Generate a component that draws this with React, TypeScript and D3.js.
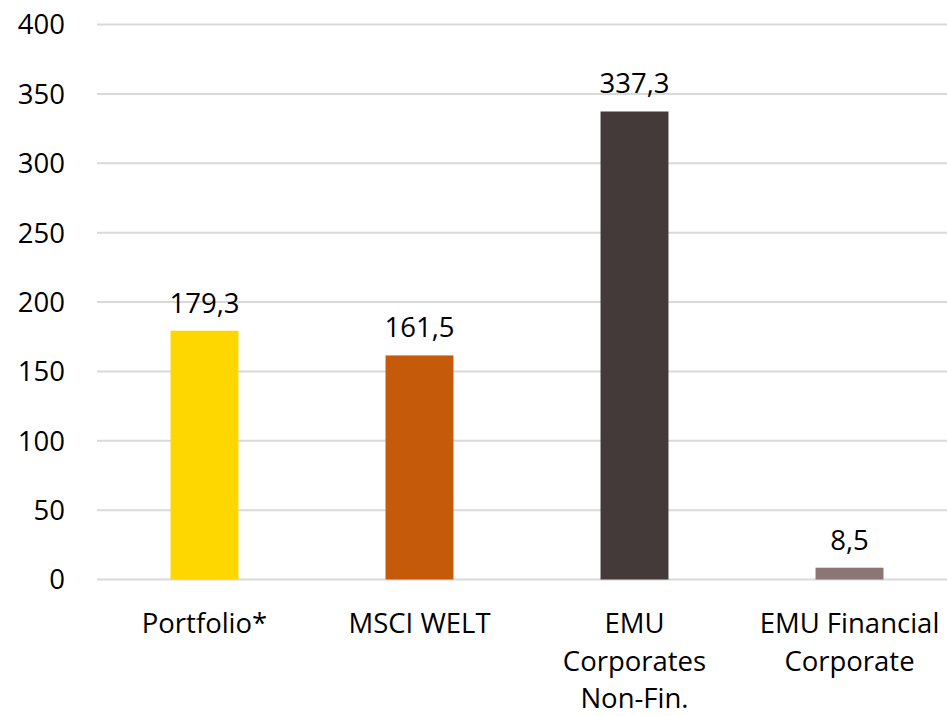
import React, { useEffect, useRef } from "react";
import * as d3 from "d3";

const categories = ["Portfolio*", "MSCI WELT", "EMU Corporates Non-Fin.", "EMU Financial Corporate"];
const categoryLines = [["Portfolio*"], ["MSCI WELT"], ["EMU", "Corporates", "Non-Fin."], ["EMU Financial", "Corporate"]];
const values = [179.3, 161.5, 337.3, 8.5];
const barColors = ["#FFD700", "#C55A0B", "#433A39", "#8B7575"];
const yTicks = [0, 50, 100, 150, 200, 250, 300, 350, 400];

export default function App() {
  const ref = useRef<SVGSVGElement>(null);

  useEffect(() => {
    const width = 947;
    const svg = d3.select(ref.current);
    svg.selectAll("*").remove();
    const font = "'Open Sans', sans-serif";
    const fs = 27.5;

    const x = d3
      .scaleBand()
      .domain(categories)
      .range([97, 957])
      .paddingInner(0.684)
      .paddingOuter(0.342);

    const y = d3.scaleLinear().domain([0, 400]).range([579.5, 24.5]);

    svg
      .append("g")
      .selectAll("line")
      .data(yTicks)
      .join("line")
      .attr("x1", 97)
      .attr("x2", width)
      .attr("y1", (d) => y(d))
      .attr("y2", (d) => y(d))
      .attr("stroke", "#d9d9d9")
      .attr("stroke-width", 2);

    svg
      .append("g")
      .selectAll("text")
      .data(yTicks)
      .join("text")
      .attr("x", 65)
      .attr("y", (d) => y(d))
      .attr("dy", "0.36em")
      .attr("text-anchor", "end")
      .attr("font-family", font)
      .attr("font-size", fs)
      .attr("fill", "#000")
      .text((d) => d);

    svg
      .append("g")
      .selectAll("rect")
      .data(values)
      .join("rect")
      .attr("x", (d, i) => x(categories[i])!)
      .attr("width", x.bandwidth())
      .attr("y", (d) => y(d))
      .attr("height", (d) => y(0) - y(d))
      .attr("fill", (d, i) => barColors[i]);

    svg
      .append("g")
      .selectAll("text")
      .data(values)
      .join("text")
      .attr("x", (d, i) => x(categories[i])! + x.bandwidth() / 2)
      .attr("y", (d) => y(d) - 18)
      .attr("text-anchor", "middle")
      .attr("font-family", font)
      .attr("font-size", fs)
      .attr("fill", "#000")
      .text((d) => d.toFixed(1).replace(".", ","));

    const labels = svg
      .append("g")
      .selectAll("text")
      .data(categoryLines)
      .join("text")
      .attr("text-anchor", "middle")
      .attr("font-family", font)
      .attr("font-size", fs)
      .attr("fill", "#000");
    labels.each(function (lines, i) {
      const cx = x(categories[i])! + x.bandwidth() / 2;
      d3.select(this)
        .selectAll("tspan")
        .data(lines)
        .join("tspan")
        .attr("x", cx)
        .attr("y", (d, j) => 633 + j * 37.5)
        .text((d) => d);
    });
  }, []);

  return <svg ref={ref} width={947} height={716} style={{ position: "absolute", left: 0, top: 0 }} />;
}
